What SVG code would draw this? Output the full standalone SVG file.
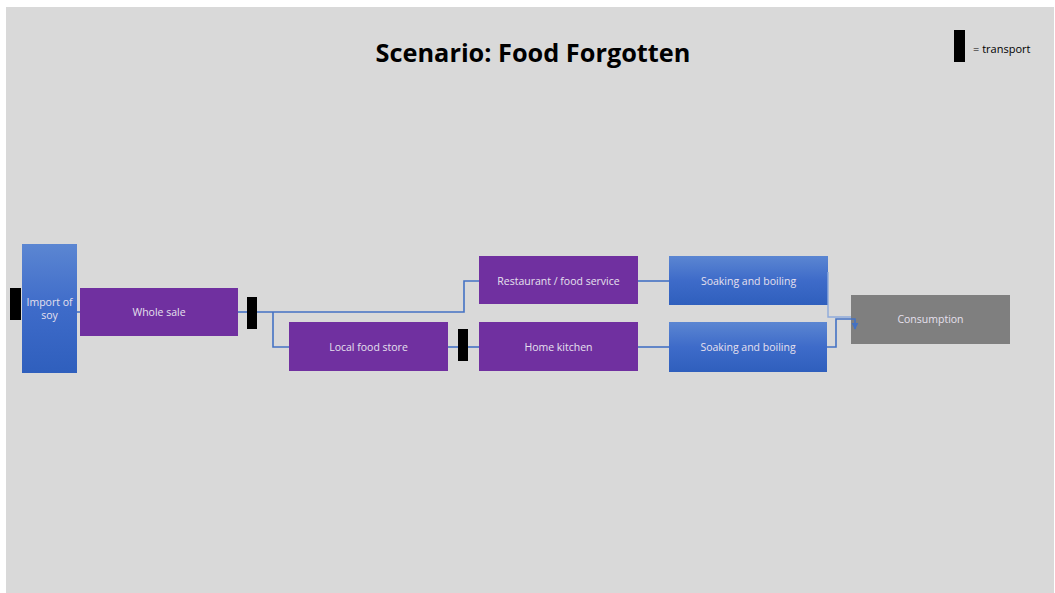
<svg xmlns="http://www.w3.org/2000/svg" width="1055" height="593" viewBox="0 0 1055 593">
  <style>
    .lbl { font-family: "Open Sans", "Liberation Sans", sans-serif; font-size: 10.5px; fill: #e6e0ee; text-anchor: middle; }
    .purple { fill: #7030a0; }
    .blue { fill: url(#blueGrad); }
    .bar { fill: #000000; }
    .wire { fill: none; stroke: #4472c4; stroke-width: 1.6; }
  </style>
  <defs>
    <linearGradient id="blueGrad" x1="0" y1="0" x2="0" y2="1">
      <stop offset="0" stop-color="#5b86d2"/>
      <stop offset="0.5" stop-color="#3e6bc9"/>
      <stop offset="1" stop-color="#2f5fbd"/>
    </linearGradient>
    <marker id="arrow" viewBox="0 0 10 10" refX="9" refY="5" markerWidth="4.5" markerHeight="4.5" orient="auto">
      <path d="M0,0 L10,5 L0,10 z" fill="#4472c4"/>
    </marker>
  </defs>

  <rect x="0" y="0" width="1055" height="593" fill="#ffffff"/>
  <rect x="6" y="7" width="1048" height="586" fill="#d9d9d9"/>

  <text x="533" y="62" font-family="'Open Sans', 'Liberation Sans', sans-serif" font-size="25.3" font-weight="bold" text-anchor="middle" fill="#000">Scenario: Food Forgotten</text>

  <g id="legend">
    <rect class="bar" x="954" y="30" width="11" height="32"/>
    <text x="973" y="53" font-family="'Open Sans', 'Liberation Sans', sans-serif" font-size="11" fill="#000">= transport</text>
  </g>

  <g id="transport-import">
    <rect class="bar" x="10" y="288" width="11" height="32"/>
  </g>
  <g id="transport-wholesale">
    <rect class="bar" x="247" y="297" width="10" height="32"/>
  </g>
  <g id="transport-store">
    <rect class="bar" x="458" y="329" width="10" height="32"/>
  </g>

  <g id="import-of-soy">
    <rect class="blue" x="22" y="244" width="55" height="129"/>
    <text class="lbl" x="49.5" y="306">Import of</text>
    <text class="lbl" x="49.5" y="319">soy</text>
  </g>
  <g id="whole-sale">
    <rect class="purple" x="80" y="288" width="158" height="48"/>
    <text class="lbl" x="159" y="316">Whole sale</text>
  </g>
  <g id="local-food-store">
    <rect class="purple" x="289" y="322" width="159" height="49"/>
    <text class="lbl" x="368.5" y="351">Local food store</text>
  </g>
  <g id="restaurant">
    <rect class="purple" x="479" y="256" width="159" height="48"/>
    <text class="lbl" x="558.5" y="285">Restaurant / food service</text>
  </g>
  <g id="home-kitchen">
    <rect class="purple" x="479" y="322" width="159" height="49"/>
    <text class="lbl" x="558.5" y="351">Home kitchen</text>
  </g>
  <g id="soaking-1">
    <rect class="blue" x="669" y="256" width="159" height="49"/>
    <text class="lbl" x="748.5" y="285">Soaking and boiling</text>
  </g>
  <g id="soaking-2">
    <rect class="blue" x="669" y="322" width="158" height="50"/>
    <text class="lbl" x="748" y="351">Soaking and boiling</text>
  </g>
  <g id="consumption">
    <rect x="851" y="295" width="159" height="49" fill="#7f7f7f"/>
    <text class="lbl" x="930.5" y="323">Consumption</text>
  </g>

  <!-- connectors sit on top of the boxes so the final arrowhead stays visible -->
  <g id="connectors">
    <path class="wire" d="M77,312 H80"/>
    <path class="wire" d="M238,312 H247"/>
    <path class="wire" d="M257,312 H464 V281 H479"/>
    <path class="wire" d="M273,312 V347 H289"/>
    <path class="wire" d="M448,347 H458"/>
    <path class="wire" d="M468,347 H479"/>
    <path class="wire" d="M638,347 H669"/>
    <path class="wire" d="M638,281 H669"/>
    <path d="M828,272 V317 H851" fill="none" stroke="#8eaadb" stroke-width="1.4"/>
    <path class="wire" d="M827,347 H836 V319 H855 V329" marker-end="url(#arrow)"/>
  </g>
</svg>
